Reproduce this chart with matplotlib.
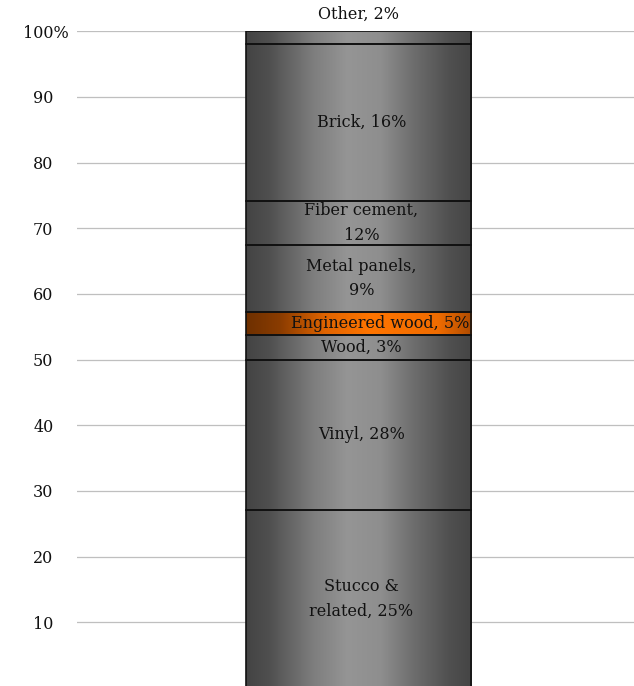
import numpy as np
import matplotlib
matplotlib.use("Agg")
import matplotlib.pyplot as plt
from matplotlib.colors import LinearSegmentedColormap
from matplotlib.transforms import ScaledTranslation

# ---- data ----
materials = ["Stucco & related", "Vinyl", "Wood", "Engineered wood",
             "Metal panels", "Fiber cement", "Brick", "Other"]
shares = [27.1, 22.85, 3.75, 3.6, 10.1, 6.8, 23.8, 2.0]
labels = ["Stucco &\nrelated, 25%", "Vinyl, 28%", "Wood, 3%",
          "Engineered wood, 5%", "Metal panels,\n9%", "Fiber cement,\n12%",
          "Brick, 16%", "Other, 2%"]
highlight = "Engineered wood"
yticks = [10, 20, 30, 40, 50, 60, 70, 80, 90, 100]
ytick_labels = ["10", "20", "30", "40", "50", "60", "70", "80", "90", "100%"]

FONT = "DejaVu Serif"
FS = 11.5

gray_cmap = LinearSegmentedColormap.from_list("gray_metal", [
    (0.0, "#444444"), (0.1, "#4f4f4f"), (0.3, "#7e7e7e"), (0.45, "#959595"),
    (0.6, "#8e8e8e"), (0.75, "#6c6c6c"), (0.9, "#505050"), (1.0, "#454545")])
orange_cmap = LinearSegmentedColormap.from_list("orange_metal", [
    (0.0, "#6e3000"), (0.15, "#8a3c00"), (0.35, "#e06400"), (0.55, "#ff7500"),
    (0.85, "#f06c00"), (1.0, "#b04c00")])

fig = plt.figure(figsize=(6.34, 6.86), dpi=100)
ax = fig.add_axes([0.121, 0.0, 0.879, 0.9544])

x0 = 0.5057
w = 0.4043
ax.set_xlim(0, 1)
ax.set_ylim(0.3, 100)

grad = np.linspace(0, 1, 256).reshape(1, -1)
bottom = 0.0
for name, val, lab in zip(materials, shares, labels):
    bars = ax.bar(x0, val, width=w, bottom=bottom, facecolor="none",
                  edgecolor="#111111", linewidth=1.2, zorder=4)
    patch = bars.patches[0]
    cmap = orange_cmap if name == highlight else gray_cmap
    im = ax.imshow(grad, cmap=cmap, aspect="auto",
                   extent=(x0 - w / 2, x0 + w / 2, bottom, bottom + val),
                   zorder=3, interpolation="bilinear")
    im.set_clip_path(patch)
    if name == "Other":
        ax.text(x0, bottom + val + 1.3, lab, ha="center", va="bottom",
                fontsize=FS, family=FONT, color="#111111", clip_on=False)
    elif name == highlight:
        ax.text(x0 + 0.038, bottom + val / 2, lab, ha="center", va="center",
                fontsize=FS, family=FONT, color="#111111", zorder=5)
    else:
        ax.text(x0 + 0.005, bottom + val / 2, lab, ha="center", va="center",
                fontsize=FS, family=FONT, color="#111111", zorder=5,
                linespacing=1.6, multialignment="center")
    bottom += val

ax.set_xlim(0, 1)
ax.set_ylim(0.3, 100)

ax.set_yticks(yticks)
ax.set_yticklabels(ytick_labels, family=FONT, fontsize=FS, color="#111111")
ax.tick_params(axis="y", length=0, pad=16.8)
ax.set_xticks([])
ax.grid(axis="y", color="#bfbfbf", linewidth=0.9, zorder=1)
ax.set_axisbelow(True)
for s in ax.spines.values():
    s.set_visible(False)

# Align numbers so that the "%" of the top label hangs past the others
fig.canvas.draw()
renderer = fig.canvas.get_renderer()
t = fig.text(0, 0, "%", family=FONT, fontsize=FS)
pct_w = t.get_window_extent(renderer).width
t.remove()
last = ax.get_yticklabels()[-1]
last.set_transform(last.get_transform() + ScaledTranslation(pct_w / fig.dpi, 0, fig.dpi_scale_trans))

fig.savefig("out.png", dpi=100)
